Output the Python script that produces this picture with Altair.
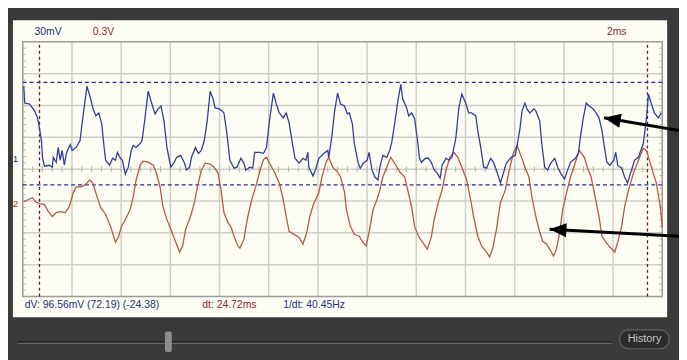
import altair as alt
import pandas as pd

# ---------------- scope settings ----------------
MS_PER_DIV = 2.0          # "2ms"
CH1_MV_PER_DIV = 30.0     # "30mV"
CH2_V_PER_DIV = 0.3       # "0.3V"
CH1_ZERO_DIV = 0.32       # ground marker "1" (divisions above centre)
CH2_ZERO_DIV = -1.09      # ground marker "2"
X_DOMAIN = [-0.40, 26.20]     # ms visible across the cream panel
Y_DOMAIN = [-4.65, 4.68]      # divisions visible across the cream panel

GRID_T = [0, 2, 4, 6, 8, 10, 12, 14, 16, 18, 20, 22, 24, 26]
GRID_DIV = [-4, -3, -2, -1, 0, 1, 2, 3, 4]

# cursors
CURSOR_T = [0.68, 25.40]
CURSOR_MV = [72.19, -24.38]

# ---------------- channel 1 (mV) ----------------
t1 = [0.04, 0.08, 0.28, 0.48, 0.60, 0.68, 0.76, 0.80, 0.88, 1.08,
      1.20, 1.24, 1.36, 1.44, 1.52, 1.60, 1.69, 1.77, 1.93, 2.01,
      2.17, 2.33, 2.41, 2.53, 2.61, 2.73, 2.85, 2.97, 3.09, 3.21,
      3.29, 3.37, 3.53, 3.65, 3.77, 3.85, 3.97, 4.05, 4.17, 4.29,
      4.41, 4.49, 4.61, 4.77, 4.85, 4.97, 5.10, 5.18, 5.30, 5.38,
      5.50, 5.62, 5.74, 5.86, 6.02, 6.14, 6.26, 6.42, 6.58, 6.66,
      6.78, 6.86, 7.02, 7.14, 7.26, 7.38, 7.50, 7.62, 7.74, 7.82,
      7.98, 8.10, 8.18, 8.30, 8.42, 8.59, 8.71, 8.87, 8.99, 9.07,
      9.23, 9.35, 9.43, 9.63, 9.79, 9.91, 10.03, 10.19, 10.31, 10.43,
      10.59, 10.71, 10.83, 10.99, 11.07, 11.23, 11.39, 11.51, 11.59, 11.63,
      11.80, 11.92, 12.04, 12.24, 12.40, 12.44, 12.56, 12.68, 12.80, 12.92,
      13.08, 13.20, 13.28, 13.40, 13.48, 13.64, 13.72, 13.84, 14.00, 14.08,
      14.20, 14.32, 14.44, 14.52, 14.64, 14.80, 14.92, 15.00, 15.12, 15.25,
      15.37, 15.45, 15.61, 15.69, 15.81, 15.93, 16.05, 16.13, 16.21, 16.37,
      16.49, 16.61, 16.73, 16.85, 16.97, 17.05, 17.21, 17.33, 17.45, 17.61,
      17.73, 17.85, 18.01, 18.13, 18.25, 18.42, 18.50, 18.62, 18.74, 18.86,
      19.02, 19.14, 19.26, 19.42, 19.54, 19.66, 19.86, 20.02, 20.10, 20.22,
      20.30, 20.42, 20.50, 20.62, 20.78, 20.86, 21.02, 21.10, 21.22, 21.34,
      21.46, 21.63, 21.75, 21.87, 22.03, 22.15, 22.27, 22.47, 22.59, 22.67,
      22.79, 22.91, 23.03, 23.19, 23.31, 23.43, 23.55, 23.67, 23.75, 23.87,
      24.03, 24.11, 24.19, 24.35, 24.47, 24.59, 24.75, 24.87, 25.03, 25.23,
      25.36, 25.44, 25.56, 25.68, 25.84, 25.96]
ch1_mv = [68.6, 52.7, 51.8, 45.3, 38.8, 28.6, 17.4, 1.6, -6.8, -5.9,
          -7.7, 1.6, -3.1, 10.9, -1.2, 8.1, -5.9, 5.3, 13.7, 8.1,
          10.9, 17.4, 33.2, 54.6, 68.6, 59.3, 48.1, 40.6, 43.4, 33.2,
          14.6, -1.2, -5.9, 0.7, -1.2, 6.2, 0.7, -1.2, -14.2, -7.7,
          8.1, 12.7, 10.9, 14.6, 17.4, 38.8, 63.9, 57.4, 48.1, 42.5,
          47.2, 50.0, 36.0, 10.9, -7.7, -4.0, 1.6, 3.4, -4.0, -10.5,
          -7.7, 1.6, 10.9, 5.3, 8.1, 17.4, 36.0, 63.9, 56.5, 48.1,
          47.2, 45.3, 43.4, 23.9, -1.2, -8.7, -7.7, 0.7, -4.0, -10.5,
          -7.7, -8.7, 6.2, 6.2, 5.3, 10.9, 36.0, 62.0, 51.8, 43.4,
          38.8, 43.4, 34.1, 10.9, 0.7, -4.0, 0.7, -1.2, 6.2, -7.7,
          -16.1, -8.7, 0.7, 5.3, 8.1, 1.6, 20.2, 45.3, 62.0, 51.8,
          50.0, 42.5, 43.4, 33.2, 14.6, -4.0, -8.7, -4.0, -1.2, 6.2,
          -10.5, -17.0, -19.8, -7.7, 3.4, 1.6, 8.1, 15.5, 33.2, 54.6,
          70.4, 56.5, 48.1, 40.6, 43.4, 37.9, 17.4, 0.7, -3.1, 0.7,
          0.7, -3.1, -10.5, -13.3, -18.0, -5.9, 0.7, -1.2, 1.6, 20.2,
          48.1, 61.1, 52.7, 43.4, 43.4, 40.6, 26.7, 10.9, -7.7, -8.7,
          0.7, -3.1, -10.5, -22.6, -13.3, -4.0, 1.6, 3.4, 12.7, 29.5,
          45.3, 52.7, 47.2, 43.4, 47.2, 45.3, 36.0, 14.6, -7.7, -10.5,
          -4.0, 0.7, -7.7, -13.3, -18.9, -10.5, -3.1, 0.7, 5.3, 20.2,
          38.8, 52.7, 50.0, 47.2, 43.4, 38.8, 26.7, 8.1, -3.1, -5.9,
          -1.2, 6.2, -5.9, -8.7, -17.0, -22.6, -10.5, -1.2, 1.6, 14.6,
          38.8, 61.1, 51.8, 43.4, 38.8, 43.4]

# ---------------- channel 2 (V) ----------------
t2 = [0.04, 0.20, 0.40, 0.52, 0.68, 0.88, 1.04, 1.20, 1.36, 1.56,
      1.73, 1.89, 2.05, 2.17, 2.37, 2.53, 2.73, 2.85, 2.97, 3.17,
      3.37, 3.57, 3.69, 3.77, 3.89, 4.01, 4.17, 4.37, 4.49, 4.61,
      4.77, 4.89, 5.10, 5.30, 5.42, 5.58, 5.70, 5.86, 6.02, 6.22,
      6.38, 6.50, 6.62, 6.82, 6.98, 7.10, 7.26, 7.42, 7.62, 7.78,
      7.94, 8.06, 8.18, 8.34, 8.47, 8.59, 8.75, 8.83, 8.99, 9.15,
      9.31, 9.47, 9.63, 9.79, 9.91, 10.03, 10.23, 10.43, 10.59, 10.71,
      10.83, 11.03, 11.23, 11.39, 11.55, 11.67, 11.84, 12.04, 12.16, 12.32,
      12.44, 12.60, 12.80, 12.92, 13.08, 13.16, 13.32, 13.48, 13.68, 13.80,
      13.96, 14.08, 14.24, 14.40, 14.52, 14.64, 14.80, 14.96, 15.12, 15.33,
      15.53, 15.65, 15.81, 15.93, 16.09, 16.25, 16.45, 16.61, 16.73, 16.89,
      17.05, 17.21, 17.37, 17.53, 17.69, 17.85, 18.05, 18.21, 18.33, 18.50,
      18.66, 18.86, 18.98, 19.10, 19.26, 19.42, 19.62, 19.78, 19.94, 20.10,
      20.22, 20.42, 20.58, 20.70, 20.86, 21.02, 21.14, 21.30, 21.42, 21.58,
      21.70, 21.83, 21.95, 22.11, 22.27, 22.47, 22.63, 22.83, 22.95, 23.11,
      23.27, 23.43, 23.55, 23.71, 23.87, 24.07, 24.19, 24.35, 24.47, 24.63,
      24.83, 25.03, 25.23, 25.36, 25.56, 25.76, 25.92, 26.00]
ch2_v = [0.020, 0.039, 0.058, 0.020, 0.002, -0.007, -0.073, -0.119, -0.082, -0.073,
         -0.082, -0.026, 0.104, 0.160, 0.160, 0.179, 0.225, 0.197, 0.104, -0.035,
         -0.100, -0.212, -0.305, -0.361, -0.314, -0.212, -0.147, -0.054, 0.067, 0.225,
         0.365, 0.402, 0.393, 0.365, 0.300, 0.160, -0.026, -0.147, -0.240, -0.361,
         -0.454, -0.398, -0.240, -0.119, 0.011, 0.160, 0.318, 0.383, 0.374, 0.346,
         0.290, 0.132, -0.082, -0.175, -0.221, -0.305, -0.398, -0.417, -0.333, -0.119,
         0.039, 0.160, 0.300, 0.420, 0.439, 0.383, 0.300, 0.197, 0.039, -0.119,
         -0.259, -0.287, -0.314, -0.380, -0.268, -0.119, 0.011, 0.104, 0.253, 0.383,
         0.439, 0.346, 0.300, 0.253, 0.113, -0.054, -0.212, -0.287, -0.305, -0.352,
         -0.398, -0.268, -0.054, 0.039, 0.132, 0.253, 0.346, 0.439, 0.383, 0.300,
         0.253, 0.132, -0.026, -0.212, -0.305, -0.361, -0.426, -0.314, -0.147, 0.011,
         0.132, 0.318, 0.439, 0.486, 0.439, 0.346, 0.225, 0.039, -0.119, -0.305,
         -0.398, -0.454, -0.500, -0.426, -0.240, 0.011, 0.132, 0.318, 0.476, 0.551,
         0.476, 0.346, 0.253, 0.067, -0.119, -0.268, -0.352, -0.380, -0.426, -0.491,
         -0.426, -0.268, -0.054, 0.104, 0.253, 0.393, 0.504, 0.439, 0.346, 0.253,
         0.067, -0.119, -0.305, -0.361, -0.407, -0.454, -0.361, -0.212, -0.026, 0.132,
         0.290, 0.411, 0.523, 0.504, 0.346, 0.197, -0.026, -0.221]

# annotation arrows (tail -> tip)
ARROW1_T = [26.70, 23.63]
ARROW1_MV = [26.7, 38.8]
ARROW2_T = [26.70, 21.42]
ARROW2_V = [-0.305, -0.240]

# ---------------- colours ----------------
NAVY = "#22307f"
MAROON = "#8a2630"
BLUE_TRACE = "#2f3f98"
RED_TRACE = "#b8573f"
GRID = "#cfcfc9"
BORDER = "#9c9c9c"
CREAM = "#fdfdf3"
DARK = "#3a3a3a"
FONT = "Liberation Sans"

# ---------------- scales ----------------
xs = alt.Scale(domain=X_DOMAIN, nice=False, zero=False)
ydiv = alt.Scale(domain=Y_DOMAIN, nice=False, zero=False)
ymv = alt.Scale(domain=[(Y_DOMAIN[0] - CH1_ZERO_DIV) * CH1_MV_PER_DIV,
                        (Y_DOMAIN[1] - CH1_ZERO_DIV) * CH1_MV_PER_DIV], nice=False, zero=False)
yv = alt.Scale(domain=[(Y_DOMAIN[0] - CH2_ZERO_DIV) * CH2_V_PER_DIV,
                       (Y_DOMAIN[1] - CH2_ZERO_DIV) * CH2_V_PER_DIV], nice=False, zero=False)


def X(f):
    return alt.X(f, type="quantitative", scale=xs, axis=None)


def Y(f, sc):
    return alt.Y(f, type="quantitative", scale=sc, axis=None)


t_max = GRID_T[-1]
d_lo, d_hi = GRID_DIV[0], GRID_DIV[-1]

# grid
vgrid = pd.DataFrame({"t": GRID_T[1:-1], "lo": d_lo, "hi": d_hi})
hgrid = pd.DataFrame({"d": GRID_DIV[1:-1], "t0": 0, "t1": t_max})
vgrid_l = alt.Chart(vgrid).mark_rule(color=GRID, strokeWidth=1.5).encode(
    x=X("t"), y=Y("lo", ydiv), y2="hi")
hgrid_l = alt.Chart(hgrid).mark_rule(color=GRID, strokeWidth=1.5).encode(
    x=X("t0"), x2="t1", y=Y("d", ydiv))

# minor ticks on centre line and side borders
minor_t = [i * MS_PER_DIV / 5 for i in range(1, 65)]
minor_d = [d_lo + i * 0.2 for i in range(1, 40)]
tick_c = pd.DataFrame({"t": minor_t, "lo": -0.09, "hi": 0.09})
tick_l = pd.DataFrame({"d": minor_d, "t0": 0, "t1": 0.12})
tick_r = pd.DataFrame({"d": minor_d, "t0": t_max - 0.12, "t1": t_max})
tick_c_l = alt.Chart(tick_c).mark_rule(color="#b5b5b0", strokeWidth=1).encode(
    x=X("t"), y=Y("lo", ydiv), y2="hi")
tick_l_l = alt.Chart(tick_l).mark_rule(color="#b5b5b0", strokeWidth=1).encode(
    x=X("t0"), x2="t1", y=Y("d", ydiv))
tick_r_l = alt.Chart(tick_r).mark_rule(color="#b5b5b0", strokeWidth=1).encode(
    x=X("t0"), x2="t1", y=Y("d", ydiv))

border = pd.DataFrame({"t0": [0], "t1": [t_max], "lo": [d_lo], "hi": [d_hi]})
border_l = alt.Chart(border).mark_rect(fillOpacity=0, stroke=BORDER, strokeWidth=1.5).encode(
    x=X("t0"), x2="t1", y=Y("lo", ydiv), y2="hi")

# cursors
cur_h = pd.DataFrame({"mv": CURSOR_MV, "t0": 0, "t1": t_max})
cur_v = pd.DataFrame({"t": CURSOR_T, "lo": d_lo, "hi": d_hi})
cur_h_l = alt.Chart(cur_h).mark_rule(color="#2a2a8c", strokeWidth=1.4, strokeDash=[4, 3]).encode(
    x=X("t0"), x2="t1", y=Y("mv", ymv))
cur_v_l = alt.Chart(cur_v).mark_rule(color="#5a1a30", strokeWidth=1.3, strokeDash=[3, 3]).encode(
    x=X("t"), y=Y("lo", ydiv), y2="hi")

# traces
tr1 = pd.DataFrame({"t": t1, "mv": ch1_mv})
tr2 = pd.DataFrame({"t": t2, "v": ch2_v})
tr2_l = alt.Chart(tr2).mark_line(color=RED_TRACE, strokeWidth=1.3).encode(
    x=X("t"), y=Y("v", yv))
tr1_l = alt.Chart(tr1).mark_line(color=BLUE_TRACE, strokeWidth=1.3).encode(
    x=X("t"), y=Y("mv", ymv))

# arrows
ARROW_HEAD = "M0,0L1,-0.42L1,0.42Z"
a1 = pd.DataFrame({"t0": [ARROW1_T[0]], "t1": [ARROW1_T[1]], "y0": [ARROW1_MV[0]], "y1": [ARROW1_MV[1]]})
a2 = pd.DataFrame({"t0": [ARROW2_T[0]], "t1": [ARROW2_T[1]], "y0": [ARROW2_V[0]], "y1": [ARROW2_V[1]]})
a1_shaft = alt.Chart(a1).mark_rule(color="black", strokeWidth=3).encode(
    x=X("t0"), x2="t1", y=Y("y0", ymv), y2="y1")
a1_head = alt.Chart(a1).mark_point(shape=ARROW_HEAD, filled=True, color="black", opacity=1,
                                   size=1156, angle=10).encode(x=X("t1"), y=Y("y1", ymv))
a2_shaft = alt.Chart(a2).mark_rule(color="black", strokeWidth=3).encode(
    x=X("t0"), x2="t1", y=Y("y0", yv), y2="y1")
a2_head = alt.Chart(a2).mark_point(shape=ARROW_HEAD, filled=True, color="black", opacity=1,
                                   size=1156, angle=3).encode(x=X("t1"), y=Y("y1", yv))

# labels
top_lab = pd.DataFrame({
    "t": [0.48, 2.85, 23.75],
    "d": [4.31, 4.31, 4.31],
    "txt": ["30mV", "0.3V", "2ms"],
    "c": [NAVY, MAROON, MAROON],
})
bot_lab = pd.DataFrame({
    "t": [0.08, 7.30, 10.59],
    "d": [-4.28, -4.28, -4.28],
    "txt": ["dV: 96.56mV  (72.19) (-24.38)", "dt: 24.72ms", "1/dt: 40.45Hz"],
    "c": [NAVY, MAROON, NAVY],
})
top_l = alt.Chart(top_lab).mark_text(align="left", baseline="middle", font=FONT, fontSize=10.5).encode(
    x=X("t"), y=Y("d", ydiv), text="txt:N", color=alt.Color("c:N", scale=None))
bot_l = alt.Chart(bot_lab).mark_text(align="left", baseline="middle", font=FONT, fontSize=10.5).encode(
    x=X("t"), y=Y("d", ydiv), text="txt:N", color=alt.Color("c:N", scale=None))

m1 = pd.DataFrame({"t": [-0.30], "mv": [0.0], "txt": ["1"]})
m2 = pd.DataFrame({"t": [-0.30], "v": [0.0], "txt": ["2"]})
m1_l = alt.Chart(m1).mark_text(baseline="middle", font=FONT, fontSize=10, color=NAVY).encode(
    x=X("t"), y=Y("mv", ymv), text="txt:N")
m2_l = alt.Chart(m2).mark_text(baseline="middle", font=FONT, fontSize=10, color="#9a3a2a").encode(
    x=X("t"), y=Y("v", yv), text="txt:N")

# player strip below the panel
slider = pd.DataFrame({"t0": [-0.20], "t1": [23.95], "d": [-5.43], "d2": [-5.47]})
slider_dark = alt.Chart(slider).mark_rule(color="#202020", strokeWidth=1.5).encode(
    x=X("t0"), x2="t1", y=Y("d", ydiv))
slider_lite = alt.Chart(slider).mark_rule(color="#6e6e6e", strokeWidth=1).encode(
    x=X("t0"), x2="t1", y=Y("d2", ydiv))
thumb = pd.DataFrame({"t0": [5.78], "t1": [6.06], "lo": [-5.74], "hi": [-5.10]})
thumb_l = alt.Chart(thumb).mark_rect(color="#8d8d8d", cornerRadius=2).encode(
    x=X("t0"), x2="t1", y=Y("lo", ydiv), y2="hi")
btn = pd.DataFrame({"t0": [24.27], "t1": [26.28], "lo": [-5.64], "hi": [-5.05],
                    "tc": [25.28], "dc": [-5.35], "txt": ["History"]})
btn_l = alt.Chart(btn).mark_rect(fill="#2b2b2b", stroke="#626262", strokeWidth=1.2, cornerRadius=9).encode(
    x=X("t0"), x2="t1", y=Y("lo", ydiv), y2="hi")
btn_t = alt.Chart(btn).mark_text(font=FONT, fontSize=11, color="#c4c4c4", baseline="middle").encode(
    x=X("tc"), y=Y("dc", ydiv), text="txt:N")

chart = alt.layer(
    vgrid_l, hgrid_l, tick_c_l, tick_l_l, tick_r_l, border_l,
    cur_v_l, cur_h_l, tr2_l, tr1_l,
    a1_shaft, a1_head, a2_shaft, a2_head,
    top_l, bot_l, m1_l, m2_l,
    slider_dark, slider_lite, thumb_l, btn_l, btn_t,
).resolve_scale(y="independent").properties(
    width=663, height=301,
    autosize=alt.AutoSizeParams(type="none"),
    padding={"left": 5, "top": 10, "right": 12, "bottom": 41},
    background=DARK,
).configure_view(fill=CREAM, strokeWidth=0)

chart.save("out.html", embed_options={"renderer": "svg", "actions": False})
